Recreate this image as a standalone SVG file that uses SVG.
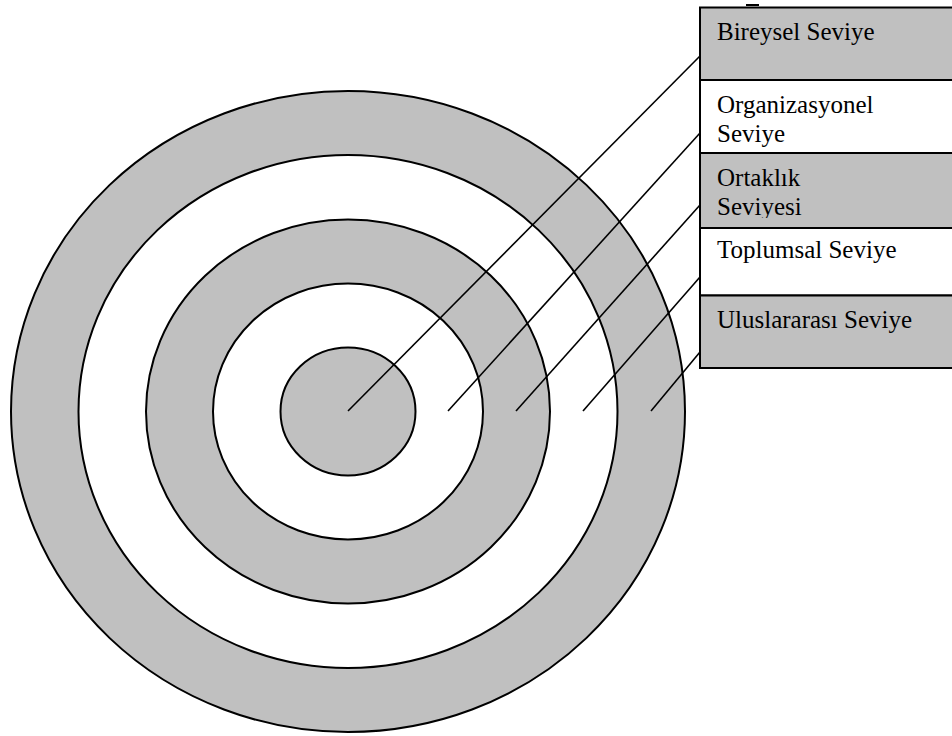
<svg xmlns="http://www.w3.org/2000/svg" width="952" height="736" viewBox="0 0 952 736">
  <style>
    .ring { stroke: #000; stroke-width: 2; }
    .g { fill: #c0c0c0; }
    .w { fill: #ffffff; }
    .box { stroke: #000; stroke-width: 2; }
    .lbl { font-family: "Liberation Serif", "Times New Roman", serif; font-size: 25px; fill: #000; }
    .conn { stroke: #000; stroke-width: 1.6; fill: none; }
  </style>
  <defs>
    <clipPath id="clipOrt"><rect x="700" y="153" width="260" height="65"/></clipPath>
  </defs>
  <rect width="952" height="736" fill="#fff"/>
  <g id="ring-uluslararasi"><ellipse class="ring g" cx="348" cy="411.5" rx="337" ry="320.5"/></g>
  <g id="ring-toplumsal"><ellipse class="ring w" cx="348" cy="411.5" rx="269.5" ry="256.5"/></g>
  <g id="ring-ortaklik"><ellipse class="ring g" cx="348" cy="411.5" rx="202" ry="192"/></g>
  <g id="ring-organizasyonel"><ellipse class="ring w" cx="348" cy="411.5" rx="135" ry="128"/></g>
  <g id="ring-bireysel"><ellipse class="ring g" cx="348" cy="411.5" rx="67.5" ry="64"/></g>
  <g id="connectors">
    <line class="conn" x1="348" y1="411" x2="700" y2="56"/>
    <line class="conn" x1="448" y1="411" x2="700" y2="133"/>
    <line class="conn" x1="516" y1="411" x2="700" y2="205"/>
    <line class="conn" x1="583" y1="411" x2="700" y2="277"/>
    <line class="conn" x1="651" y1="411" x2="700" y2="352"/>
  </g>
  <line x1="746" y1="5" x2="759" y2="5" stroke="#000" stroke-width="2"/>
  <g id="box-bireysel">
    <rect class="box g" x="700" y="7.5" width="260" height="72.5"/>
    <text class="lbl" x="717" y="40">Bireysel Seviye</text>
  </g>
  <g id="box-organizasyonel">
    <rect class="box w" x="700" y="80" width="260" height="73"/>
    <text class="lbl" x="717" y="113">Organizasyonel</text>
    <text class="lbl" x="717" y="142">Seviye</text>
  </g>
  <g id="box-ortaklik">
    <rect class="box g" x="700" y="153" width="260" height="75"/>
    <g clip-path="url(#clipOrt)">
      <text class="lbl" x="717" y="186">Ortaklık</text>
      <text class="lbl" x="717" y="215">Seviyesi</text>
    </g>
  </g>
  <g id="box-toplumsal">
    <rect class="box w" x="700" y="228" width="260" height="67.5"/>
    <text class="lbl" x="717" y="258">Toplumsal Seviye</text>
  </g>
  <g id="box-uluslararasi">
    <rect class="box g" x="700" y="295.5" width="260" height="72.5"/>
    <text class="lbl" x="717" y="328">Uluslararası Seviye</text>
  </g>
</svg>
